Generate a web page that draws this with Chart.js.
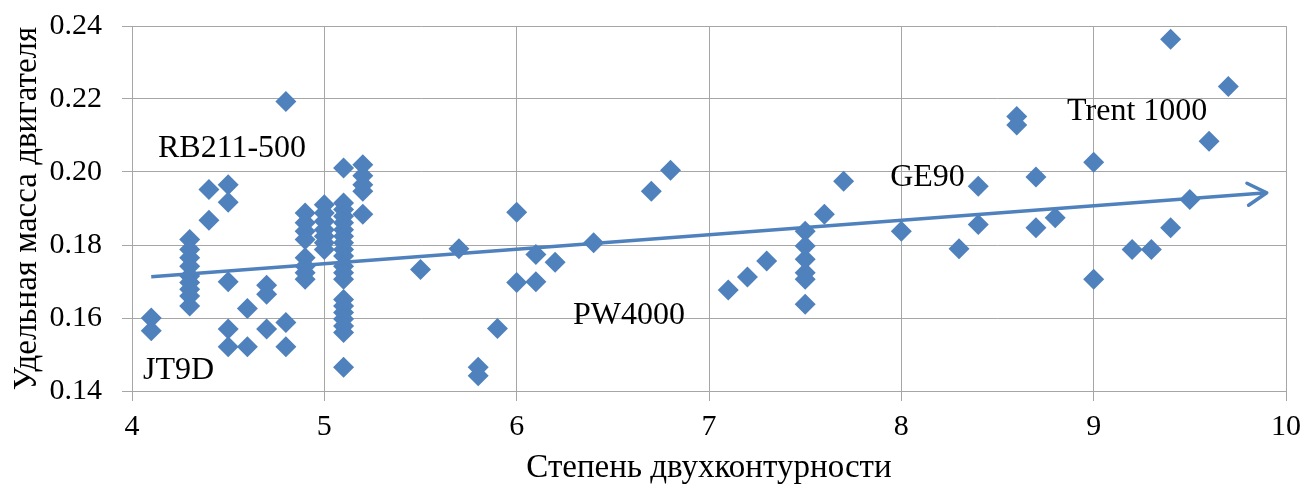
<!DOCTYPE html>
<html>
<head>
<meta charset="utf-8">
<script src="https://cdn.jsdelivr.net/npm/chart.js@4.4.1/dist/chart.umd.min.js"></script>
<style>
    html, body { margin: 0; padding: 0; background: #fff; }
    #wrap { width: 1305px; height: 488px; }
</style>
</head>
<body>
<div id="wrap"><canvas id="engineChart" width="1305" height="488"></canvas></div>
<script>
// bypass ratio (x) and specific engine mass (y)
const bypassRatio = [
    4.1, 4.1,
    4.3, 4.3, 4.3, 4.3, 4.3, 4.3, 4.3, 4.3, 4.3,
    4.4, 4.4,
    4.5, 4.5, 4.5, 4.5, 4.5,
    4.6, 4.6,
    4.7, 4.7, 4.7,
    4.8, 4.8, 4.8,
    4.9, 4.9, 4.9, 4.9, 4.9, 4.9, 4.9, 4.9,
    5.0, 5.0, 5.0, 5.0, 5.0, 5.0, 5.0,
    5.1, 5.1, 5.1, 5.1, 5.1, 5.1, 5.1, 5.1, 5.1, 5.1,
    5.1, 5.1, 5.1, 5.1, 5.1, 5.1, 5.1, 5.1, 5.1, 5.1,
    5.2, 5.2, 5.2, 5.2, 5.2,
    5.5, 5.7, 5.8, 5.8, 5.9,
    6.0, 6.0, 6.1, 6.1, 6.2, 6.4, 6.7, 6.8,
    7.1, 7.2, 7.3,
    7.5, 7.5, 7.5, 7.5, 7.5, 7.5,
    7.6, 7.7, 8.0, 8.3, 8.4, 8.4,
    8.6, 8.6, 8.7, 8.7, 8.8,
    9.0, 9.0, 9.2, 9.3, 9.4, 9.4, 9.5, 9.6, 9.7
];
const specificMass = [
    0.160, 0.1565,
    0.1815, 0.1788, 0.1765, 0.1742, 0.1715, 0.1697, 0.1679, 0.166, 0.1633,
    0.1952, 0.1868,
    0.1965, 0.1917, 0.1699, 0.157, 0.1521,
    0.1626, 0.1521,
    0.169, 0.1665, 0.157,
    0.2193, 0.1588, 0.1521,
    0.1888, 0.1861, 0.1838, 0.1815, 0.1765, 0.1742, 0.1724, 0.1706,
    0.191, 0.1888, 0.1865, 0.1842, 0.1824, 0.1806, 0.1788,
    0.2011, 0.1915, 0.1897, 0.1879, 0.1861, 0.1842, 0.1824, 0.1806, 0.1788, 0.177,
    0.1742, 0.1724, 0.1706, 0.1651, 0.1633, 0.1615, 0.1597, 0.1578, 0.156, 0.1465,
    0.202, 0.199, 0.1965, 0.1947, 0.1884,
    0.1733, 0.179, 0.1465, 0.1442, 0.1571,
    0.189, 0.1697, 0.1774, 0.1699, 0.1753, 0.1806, 0.1947, 0.2005,
    0.1677, 0.1712, 0.1756,
    0.1838, 0.1797, 0.1761, 0.1724, 0.1706, 0.1638,
    0.1884, 0.1975, 0.1838, 0.179, 0.1961, 0.1856,
    0.2152, 0.2129, 0.1986, 0.1847, 0.1875,
    0.2027, 0.1706, 0.1788, 0.1788, 0.2364, 0.1847, 0.1925, 0.2084, 0.2234
];

// trend line end points as drawn (arrow at the right end)
const trendX = [4.1, 9.9];
const trendY = [0.1713, 0.1943];

// engine names written on the plot
const engineNames = ['RB211-500', 'JT9D', 'PW4000', 'GE90', 'Trent 1000'];
const engineNameX = [4.135, 4.057, 6.293, 7.942, 8.862];
const engineNameY = [0.2042, 0.1433, 0.1583, 0.1961, 0.2143];

const xTicks = [4, 5, 6, 7, 8, 9, 10];
const yTicks = [0.14, 0.16, 0.18, 0.20, 0.22, 0.24];

const BLUE = '#4f81bd';
const GRID = '#a6a6a6';
const FONT = 'Liberation Serif';

const arrowPlugin = {
    id: 'trendArrow',
    afterDatasetsDraw(chart) {
        const meta = chart.getDatasetMeta(0);
        if (!meta || meta.data.length < 2) return;
        const p0 = meta.data[0];
        const p1 = meta.data[meta.data.length - 1];
        const angle = Math.atan2(p1.y - p0.y, p1.x - p0.x);
        const len = 22;
        const spread = Math.PI / 6;
        const ctx = chart.ctx;
        ctx.save();
        ctx.strokeStyle = BLUE;
        ctx.lineWidth = 3.5;
        ctx.lineCap = 'round';
        ctx.lineJoin = 'round';
        ctx.beginPath();
        ctx.moveTo(p1.x - len * Math.cos(angle - spread), p1.y - len * Math.sin(angle - spread));
        ctx.lineTo(p1.x, p1.y);
        ctx.lineTo(p1.x - len * Math.cos(angle + spread), p1.y - len * Math.sin(angle + spread));
        ctx.stroke();
        ctx.restore();
    }
};

const namesPlugin = {
    id: 'engineNames',
    afterDraw(chart) {
        const { ctx, scales } = chart;
        ctx.save();
        ctx.fillStyle = '#000';
        ctx.font = `32px "${FONT}"`;
        ctx.textAlign = 'left';
        ctx.textBaseline = 'alphabetic';
        engineNames.forEach((name, i) => {
            ctx.fillText(name, scales.x.getPixelForValue(engineNameX[i]), scales.y.getPixelForValue(engineNameY[i]));
        });
        ctx.restore();
    }
};

const points = bypassRatio.map((x, i) => ({ x: x, y: specificMass[i] }));
const trend = trendX.map((x, i) => ({ x: x, y: trendY[i] }));

new Chart(document.getElementById('engineChart'), {
    type: 'scatter',
    data: {
        datasets: [
            {
                type: 'line',
                data: trend,
                borderColor: BLUE,
                borderWidth: 3.5,
                pointRadius: 0,
                fill: false,
                order: 0
            },
            {
                data: points,
                pointStyle: 'rectRot',
                pointRadius: 10.5,
                pointHoverRadius: 10.5,
                backgroundColor: BLUE,
                borderColor: BLUE,
                borderWidth: 0,
                order: 1
            }
        ]
    },
    options: {
        responsive: false,
        animation: false,
        events: [],
        layout: { padding: { top: 26, right: 19, left: 0, bottom: 0 } },
        plugins: {
            legend: { display: false },
            tooltip: { enabled: false }
        },
        scales: {
            x: {
                type: 'linear',
                min: 4,
                max: 10,
                afterBuildTicks: (scale) => { scale.ticks = xTicks.map(v => ({ value: v })); },
                afterFit: (scale) => {
                    scale.height = 97;
                    scale.paddingLeft = 0;
                    scale.paddingRight = 0;
                },
                grid: { color: GRID, lineWidth: 1, tickLength: 10 },
                border: { color: GRID },
                ticks: {
                    color: '#000',
                    padding: 8,
                    maxRotation: 0,
                    font: { family: FONT, size: 30 }
                },
                title: {
                    display: true,
                    text: 'Степень двухконтурности',
                    color: '#000',
                    padding: 0,
                    font: { family: FONT, size: 33 }
                }
            },
            y: {
                type: 'linear',
                min: 0.14,
                max: 0.24,
                afterBuildTicks: (scale) => { scale.ticks = yTicks.map(v => ({ value: v })); },
                afterFit: (scale) => {
                    scale.width = 132;
                    scale.paddingTop = 0;
                    scale.paddingBottom = 0;
                },
                grid: { color: GRID, lineWidth: 1, tickLength: 10 },
                border: { color: GRID },
                ticks: {
                    color: '#000',
                    padding: 20,
                    font: { family: FONT, size: 30 },
                    callback: (v) => Number(v).toFixed(2)
                },
                title: {
                    display: true,
                    text: 'Удельная масса двигателя',
                    color: '#000',
                    padding: { top: 8, bottom: 0 },
                    font: { family: FONT, size: 33 }
                }
            }
        }
    },
    plugins: [arrowPlugin, namesPlugin]
});
</script>
</body>
</html>
